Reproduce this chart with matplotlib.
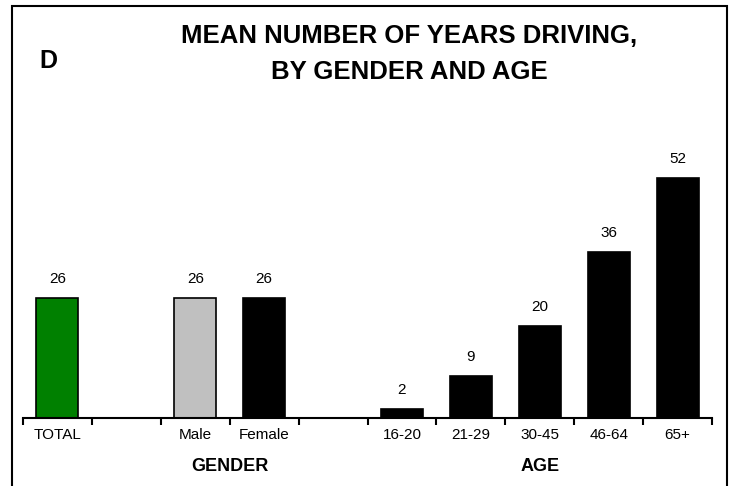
import matplotlib.pyplot as plt
from matplotlib.patches import Rectangle

# Chart data
categories = ['TOTAL', '', 'Male', 'Female', '', '16-20', '21-29', '30-45', '46-64', '65+']
values = [26, None, 26, 26, None, 2, 9, 20, 36, 52]
colors = ['#008000', None, '#C0C0C0', '#000000', None,
          '#000000', '#000000', '#000000', '#000000', '#000000']
group_labels = ['GENDER', 'AGE']
group_pos = [2.5, 7]

plt.rcParams['font.family'] = ['Liberation Sans', 'DejaVu Sans']

fig = plt.figure(figsize=(7.33, 4.86), dpi=100)
W, H = 733, 486
ax = fig.add_axes([23 / W, (H - 418) / H, (712 - 23) / W, 277 / H])

for i, (v, c) in enumerate(zip(values, colors)):
    if v is None:
        continue
    ax.bar(i, v, width=0.61, color=c, edgecolor='black', linewidth=1.2, zorder=2)
    ax.text(i, v + 2.6, str(v), ha='center', va='bottom', fontsize=11)

ax.set_xlim(-0.5, len(categories) - 0.5)
ax.set_ylim(0, 60)
for s in ['top', 'right', 'left']:
    ax.spines[s].set_visible(False)
ax.spines['bottom'].set_linewidth(1.5)
ax.set_yticks([])

# boundary ticks, labels at slot centres
ax.set_xticks([i - 0.5 for i in range(len(categories) + 1)])
ax.set_xticklabels([])
ax.tick_params(axis='x', which='major', direction='out', length=5, width=1.5)
ax.set_xticks(range(len(categories)), minor=True)
ax.set_xticklabels(categories, minor=True, fontsize=11)
ax.tick_params(axis='x', which='minor', length=0, pad=7)

for lbl, p in zip(group_labels, group_pos):
    ax.text(p, -10.4, lbl, ha='center', va='center', fontsize=13,
            fontweight='bold')

fig.text(409 / W, 1 - 36 / H, 'MEAN NUMBER OF YEARS DRIVING,', ha='center', va='center',
         fontsize=18.5, fontweight='bold')
fig.text(409 / W, 1 - 72 / H, 'BY GENDER AND AGE', ha='center', va='center',
         fontsize=18.5, fontweight='bold')
fig.text(48 / W, 1 - 61 / H, 'D', ha='center', va='center',
         fontsize=18, fontweight='bold')

# outer frame (open at the bottom)
fig.add_artist(Rectangle((12 / W, -0.05), (727 - 12) / W, 1.05 - 6 / H,
                         transform=fig.transFigure, fill=False,
                         edgecolor='black', linewidth=1.5))

fig.savefig('out.png', dpi=100)
